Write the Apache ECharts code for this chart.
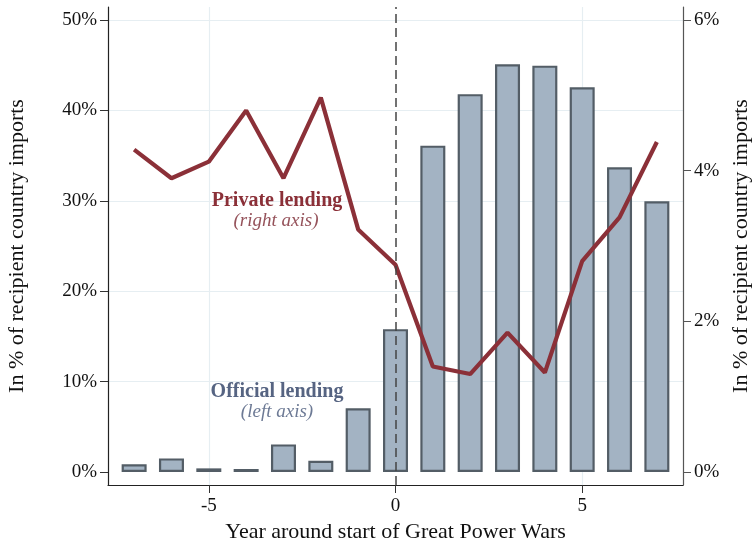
<!DOCTYPE html>
<html>
<head>
<meta charset="utf-8">
<script src="https://cdn.jsdelivr.net/npm/echarts@6/dist/echarts.min.js"></script>
<style>
  html, body { margin: 0; padding: 0; background: #fff; }
  #chart { width: 755px; height: 539px; }
</style>
</head>
<body>
<div id="chart"></div>
<script>
// years around start of war
const years = [-7, -6, -5, -4, -3, -2, -1, 0, 1, 2, 3, 4, 5, 6, 7];
// official lending, % of imports (left axis)
const official = [0.85, 1.5, 0.4, 0.33, 3.05, 1.25, 7.05, 15.8, 36.1, 41.8, 45.1, 44.95, 42.55, 33.7, 29.95];
// private lending, % of imports (right axis)
const privateLending = [4.28, 3.9, 4.12, 4.8, 3.9, 4.97, 3.22, 2.75, 1.4, 1.3, 1.85, 1.32, 2.8, 3.38, 4.38];

const xTicks = [-5, 0, 5];
const leftTicks = [0, 10, 20, 30, 40, 50];
const rightTicks = [0, 2, 4, 6];

const serif = "Liberation Serif";

const chart = echarts.init(document.getElementById("chart"));
chart.setOption({
  animation: false,
  backgroundColor: "#fff",
  textStyle: { fontFamily: serif },
  grid: { left: 108, right: 72, top: 7, bottom: 54, outerBoundsMode: "none", containLabel: false },
  xAxis: {
    type: "value",
    min: -7.7,
    max: 7.7,
    name: "Year around start of Great Power Wars",
    nameLocation: "middle",
    nameGap: 36,
    nameTextStyle: { fontFamily: serif, fontSize: 22, color: "#111" },
    axisLine: { show: true, onZero: false, lineStyle: { color: "#222", width: 1.2 } },
    axisTick: { show: true, length: 8, customValues: xTicks, lineStyle: { color: "#333" } },
    axisLabel: { customValues: xTicks, fontFamily: serif, fontSize: 19, color: "#111", margin: 12 },
    splitLine: { show: false }
  },
  yAxis: [
    {
      type: "value",
      min: -1.44,
      max: 51.44,
      name: "In % of recipient country imports",
      nameLocation: "middle",
      nameGap: 80,
      nameTextStyle: { fontFamily: serif, fontSize: 22, color: "#111" },
      axisLine: { show: true, onZero: false, lineStyle: { color: "#222", width: 1.2 } },
      axisTick: { show: true, length: 8, customValues: leftTicks, lineStyle: { color: "#333" } },
      axisLabel: { customValues: leftTicks, formatter: (v) => v + "%", fontFamily: serif, fontSize: 19, color: "#111", margin: 11 },
      splitLine: { show: false }
    },
    {
      type: "value",
      min: -0.173,
      max: 6.173,
      position: "right",
      name: "In % of recipient country imports",
      nameLocation: "middle",
      nameGap: 46,
      nameRotate: 90,
      nameTextStyle: { fontFamily: serif, fontSize: 22, color: "#111" },
      axisLine: { show: true, onZero: false, lineStyle: { color: "#555", width: 1.2 } },
      axisTick: { show: true, length: 8, customValues: rightTicks, lineStyle: { color: "#555" } },
      axisLabel: { customValues: rightTicks, formatter: (v) => v + "%", fontFamily: serif, fontSize: 19, color: "#111", margin: 11 },
      splitLine: { show: false }
    }
  ],
  series: [
    {
      name: "Official lending",
      type: "bar",
      yAxisIndex: 0,
      barWidth: 25,
      data: years.map((y, i) => [y, official[i]]),
      itemStyle: { color: "#a3b3c3", borderColor: "#535d66", borderWidth: 2.2 },
      markLine: {
        silent: true,
        symbol: "none",
        label: { show: false },
        lineStyle: { color: "#e6eef2", width: 1.2, type: "solid" },
        z: 0,
        data: leftTicks.slice(1).map((v) => ({ yAxis: v })).concat(xTicks.filter((v) => v !== 0).map((v) => ({ xAxis: v })))
      },
      z: 2
    },
    {
      name: "War start",
      type: "line",
      yAxisIndex: 0,
      data: [],
      markLine: {
        silent: true,
        symbol: "none",
        label: { show: false },
        lineStyle: { color: "#444", width: 1.5, type: [9, 5] },
        data: [{ xAxis: 0 }]
      },
      z: 3
    },
    {
      name: "Private lending",
      type: "line",
      yAxisIndex: 1,
      data: years.map((y, i) => [y, privateLending[i]]),
      showSymbol: false,
      lineStyle: { color: "#8b3038", width: 4.2 },
      z: 4
    }
  ],
  graphic: [
    { type: "text", x: 277, y: 201, z: 100, style: { text: "Private lending", font: "bold 20px 'Liberation Serif'", fill: "#8b3038", align: "center", verticalAlign: "middle" } },
    { type: "text", x: 276, y: 221, z: 100, style: { text: "(right axis)", font: "italic 19px 'Liberation Serif'", fill: "#95525a", align: "center", verticalAlign: "middle" } },
    { type: "text", x: 277, y: 392, z: 100, style: { text: "Official lending", font: "bold 20px 'Liberation Serif'", fill: "#566482", align: "center", verticalAlign: "middle" } },
    { type: "text", x: 277, y: 412, z: 100, style: { text: "(left axis)", font: "italic 19px 'Liberation Serif'", fill: "#6d7a95", align: "center", verticalAlign: "middle" } }
  ]
});
</script>
</body>
</html>
